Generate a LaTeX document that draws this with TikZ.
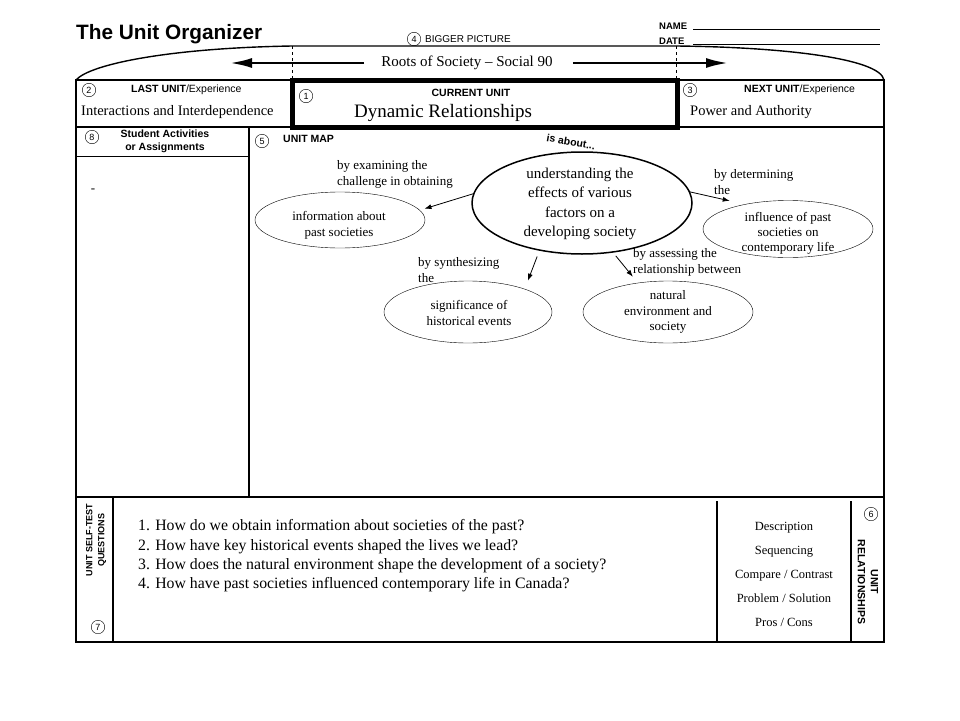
\documentclass[tikz,border=0pt]{standalone}
\usepackage{fontspec}
\setmainfont{Liberation Serif}
\setsansfont{Liberation Sans}
\usetikzlibrary{shapes.geometric,arrows.meta}

\tikzset{
  circnum/.style={circle, draw, thin, inner sep=0pt, minimum size=13.5pt,
    font=\sffamily\fontsize{9}{10}\selectfont},
  boxlabel/.style={inner sep=0pt, font=\sffamily\bfseries\fontsize{10.5}{13}\selectfont},
  unitname/.style={inner sep=0pt, anchor=west, font=\fontsize{14.5}{16}\selectfont},
  bubble/.style={ellipse, draw, thin, inner sep=0pt, outer sep=0pt},
  bubbletext/.style={inner sep=0pt, align=center, font=\fontsize{13}{15.5}\selectfont},
  linktext/.style={inner sep=0pt, anchor=west, align=left, font=\fontsize{13}{16}\selectfont},
  maparrow/.style={-{Latex[length=7pt,width=5pt]}, line width=0.8pt},
  bigarrow/.style={-{Latex[length=22pt,width=10pt]}, line width=2.5pt},
  boxline/.style={line width=1.4pt},
  cutline/.style={line width=0.8pt, dash pattern=on 3pt off 3pt}
}

\begin{document}
\begin{tikzpicture}[x=1pt, y=-1pt]
  \useasboundingbox (0,0) rectangle (960,720);

  % heading
  \node[anchor=west, inner sep=0pt, font=\sffamily\bfseries\fontsize{20.8}{22}\selectfont] (title) at (76,34) {The Unit Organizer};
  \node[circnum] (n4) at (414,39) {4};
  \node[anchor=west, inner sep=0pt, font=\sffamily\fontsize{10}{12}\selectfont] (bigpic) at (425,39) {BIGGER PICTURE};
  \node[boxlabel, anchor=west, font=\sffamily\bfseries\fontsize{9.5}{11}\selectfont] (name) at (659,26) {NAME};
  \node[boxlabel, anchor=west, font=\sffamily\bfseries\fontsize{9.5}{11}\selectfont] (date) at (659,41) {DATE};
  \draw[thin] (693,29) -- (880,29);
  \draw[thin] (693,44) -- (880,44);

  % frame
  \draw[boxline] (76,80) .. controls (90,64) and (170,48) .. (292,46) -- (676,46)
    .. controls (780,47) and (880,58) .. (884,80);
  \draw[boxline] (76,80) -- (76,642) -- (884,642) -- (884,80) -- cycle;
  \draw[cutline] (292,46) -- (292,80);
  \draw[cutline] (676,46) -- (676,80);
  \draw[boxline] (76,127) -- (884,127);
  \draw[boxline] (249,127) -- (249,497);
  \draw[thin] (76,156) -- (249,156);
  \draw[boxline] (76,497) -- (884,497);
  \draw[boxline] (113,497) -- (113,642);
  \draw[boxline] (717,501) -- (717,642);
  \draw[boxline] (851,501) -- (851,642);
  \draw[line width=4.5pt] (292.5,80.5) rectangle (677.5,127.5);

  % bigger picture
  \node[inner sep=0pt, font=\fontsize{15}{17}\selectfont] (roots) at (467,63) {Roots of Society \textendash{} Social 90};
  \coordinate (lefttip) at (230,63);
  \coordinate (righttip) at (728,63);
  \draw[bigarrow, shorten <=17pt] (roots.west) -- (lefttip);
  \draw[bigarrow, shorten <=20pt] (roots.east) -- (righttip);

  % units
  \node[circnum] (n2) at (89,90) {2};
  \node[boxlabel, anchor=west] (last) at (131,90) {LAST UNIT\mdseries/Experience};
  \node[unitname] (lastname) at (81,112) {Interactions and Interdependence};
  \node[circnum] (n1) at (306,96) {1};
  \node[boxlabel] (current) at (471,93) {CURRENT UNIT};
  \node[inner sep=0pt, font=\fontsize{19}{21}\selectfont] (curname) at (443,113) {Dynamic Relationships};
  \node[circnum] (n3) at (690,90) {3};
  \node[boxlabel, anchor=west] (next) at (744,90) {NEXT UNIT\mdseries/Experience};
  \node[unitname] (nextname) at (690,112) {Power and Authority};

  % activities
  \node[circnum] (n8) at (92,137) {8};
  \node[boxlabel, align=center] (activ) at (165,141) {Student Activities\\or Assignments};
  \node[inner sep=0pt, font=\fontsize{13}{15}\selectfont] (dash) at (93,191) {-};

  % unit map
  \node[circnum] (n5) at (262,141) {5};
  \node[boxlabel, anchor=west] (map) at (283,139) {UNIT MAP};
  \node[boxlabel, rotate=-10] (about) at (571,142) {is about...};
  \node[bubble, line width=1.5pt, minimum width=220pt, minimum height=102pt] (cen) at (582,203) {};
  \node[bubbletext, font=\fontsize{15}{19.3}\selectfont] at (580,204) {understanding the\\effects of various\\factors on a\\developing society};
  \node[bubble, minimum width=170pt, minimum height=56pt] (info) at (340,220) {};
  \node[bubbletext, font=\fontsize{13}{16}\selectfont] at (339,225) {information about\\past societies};
  \node[bubble, minimum width=170pt, minimum height=57pt] (infl) at (788,229) {};
  \node[bubbletext, font=\fontsize{13}{15}\selectfont] at (788,233) {influence of past\\societies on\\contemporary life};
  \node[bubble, minimum width=168pt, minimum height=62pt] (sig) at (468,312) {};
  \node[bubbletext] at (469,313) {significance of\\historical events};
  \node[bubble, minimum width=170pt, minimum height=62pt] (nat) at (668,312) {};
  \node[bubbletext] at (668,312) {natural\\environment and\\society};

  \node[linktext] (l1) at (337,174) {by examining the\\challenge in obtaining};
  \node[linktext] (l2) at (714,182) {by determining\\the};
  \node[linktext] (l3) at (418,270) {by synthesizing\\the};
  \node[linktext] (l4) at (633,262) {by assessing the\\relationship between};

  \draw[maparrow, shorten >=5pt] (cen.175) -- (info.7);
  \draw[maparrow, shorten >=16pt] (cen.6) -- (infl.150);
  \draw[maparrow, shorten <=7pt, shorten >=9pt] (cen.228) -- (sig.22);
  \draw[maparrow, shorten <=5pt, shorten >=8pt] (cen.302) -- (nat.136);

  % self-test questions
  \node[boxlabel, rotate=90, align=center, font=\sffamily\bfseries\fontsize{9}{12}\selectfont] (selftest) at (96,540) {UNIT SELF-TEST\\QUESTIONS};
  \node[circnum] (n7) at (98,627) {7};
  \node[inner sep=0pt, anchor=west, align=left, font=\fontsize{15.8}{19.3}\selectfont] (quest) at (138,556)
    {1. How do we obtain information about societies of the past?\\
     2. How have key historical events shaped the lives we lead?\\
     3. How does the natural environment shape the development of a society?\\
     4. How have past societies influenced contemporary life in Canada?};

  % relationships
  \node[inner sep=0pt, align=center, font=\fontsize{12.5}{24}\selectfont] (rels) at (784,574)
    {Description\\Sequencing\\Compare / Contrast\\Problem / Solution\\Pros / Cons};
  \node[circnum] (n6) at (871,514) {6};
  \node[boxlabel, rotate=-90, align=center] (relhead) at (868,582) {UNIT\\RELATIONSHIPS};
\end{tikzpicture}
\end{document}
